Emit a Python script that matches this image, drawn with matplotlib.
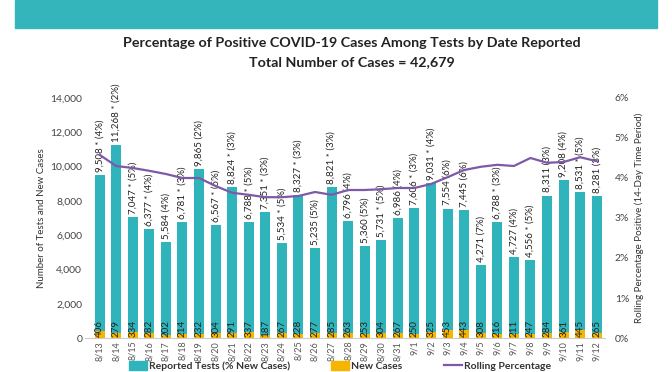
import numpy as np
import matplotlib
matplotlib.use("Agg")
import matplotlib.pyplot as plt
import matplotlib.patches as mpatches
from matplotlib.lines import Line2D

plt.rcParams['font.family'] = ['Lato', 'DejaVu Sans']

dates = ['8/13', '8/14', '8/15', '8/16', '8/17', '8/18', '8/19', '8/20', '8/21', '8/22',
         '8/23', '8/24', '8/25', '8/26', '8/27', '8/28', '8/29', '8/30', '8/31', '9/1',
         '9/2', '9/3', '9/4', '9/5', '9/6', '9/7', '9/8', '9/9', '9/10', '9/11', '9/12']
tests = [9508, 11268, 7047, 6377, 5584, 6781, 9865, 6567, 8824, 6788,
         7351, 5534, 8327, 5235, 8821, 6796, 5360, 5731, 6986, 7606,
         9031, 7554, 7445, 4271, 6788, 4727, 4556, 8311, 9208, 8531, 8281]
pct_new = [4, 2, 5, 4, 4, 3, 2, 5, 3, 5,
           3, 5, 3, 5, 3, 4, 5, 5, 4, 3,
           4, 6, 6, 7, 3, 4, 5, 3, 4, 5, 3]
starred = [1, 1, 1, 1, 0, 1, 0, 1, 1, 1,
           1, 1, 1, 0, 1, 0, 0, 1, 0, 1,
           1, 0, 0, 0, 1, 0, 1, 0, 0, 1, 0]
new_cases = [406, 279, 334, 282, 202, 214, 232, 304, 291, 337,
             187, 267, 228, 277, 285, 263, 253, 304, 267, 250,
             325, 453, 443, 308, 216, 211, 247, 284, 361, 445, 265]
rolling = [4.58, 4.30, 4.25, 4.18, 4.10, 4.00, 4.00, 3.80, 3.63, 3.58,
           3.52, 3.52, 3.55, 3.65, 3.58, 3.70, 3.70, 3.72, 3.75, 3.75,
           3.85, 4.02, 4.20, 4.28, 4.33, 4.30, 4.50, 4.38, 4.40, 4.52, 4.42]

TEAL = '#2fb4bc'
ORANGE = '#f7b500'
PURPLE = '#7d5aa8'
TXT = '#222222'

fig = plt.figure(figsize=(6.72, 3.72), dpi=100)
# header banner (cut off at the top in the original)
fig.patches.append(mpatches.Rectangle((15 / 672, 1 - 28 / 372), 642 / 672, 28 / 372,
                                      transform=fig.transFigure, color='#33b5bb', zorder=0))

fig.text(352 / 672, 1 - 43 / 372, 'Percentage of Positive COVID-19 Cases Among Tests by Date Reported',
         ha='center', va='center', fontsize=10.3, fontweight='bold', color=TXT)
fig.text(352 / 672, 1 - 62 / 372, 'Total Number of Cases = 42,679',
         ha='center', va='center', fontsize=10.3, fontweight='bold', color=TXT)

ax = fig.add_axes([85 / 672, 1 - 338 / 372, 520 / 672, 240 / 372])
x = np.arange(len(dates))
w = 0.6
ax.bar(x, tests, width=w, color=TEAL, zorder=2)
ax.bar(x, new_cases, width=w, color=ORANGE, zorder=3)

for i in x:
    star = ' *' if starred[i] else ''
    ax.text(i, tests[i] + 180, f'{tests[i]:,}{star} ({pct_new[i]}%)', rotation=90,
            ha='center', va='bottom', fontsize=7, color=TXT, clip_on=False, zorder=5)
    ax.text(i, 40, f'{new_cases[i]}', rotation=90, ha='center', va='bottom',
            fontsize=7, color=TXT, zorder=5)

ax.set_xlim(-0.88, 30.5)
ax.set_ylim(0, 14000)
ax.set_yticks(np.arange(0, 14001, 2000))
ax.set_yticklabels([f'{v:,}' for v in range(0, 14001, 2000)])
ax.set_xticks(x)
ax.set_xticklabels(dates, rotation=90)
ax.tick_params(axis='x', length=0, labelsize=6.5, colors='#555555', pad=2)
ax.tick_params(axis='y', length=0, labelsize=7.5, colors='#444444', pad=2)
for s in ['top', 'right', 'left']:
    ax.spines[s].set_visible(False)
ax.spines['bottom'].set_color('#cccccc')
ax.set_ylabel('Number of Tests and New Cases', fontsize=7, color='#333333', labelpad=3)

ax2 = ax.twinx()
ax2.plot(x, rolling, color=PURPLE, lw=1.6, zorder=4)
ax2.set_ylim(0, 6)
ax2.set_yticks(range(0, 7))
ax2.set_yticklabels([f'{v}%' for v in range(0, 7)])
ax2.tick_params(axis='y', length=0, labelsize=7.5, colors='#444444', pad=7)
for s in ['top', 'right', 'left', 'bottom']:
    ax2.spines[s].set_visible(False)
ax2.set_ylabel('Rolling Percentage Positive (14-Day Time Period)', fontsize=7,
               color='#333333', labelpad=4)

handles = [mpatches.Patch(color=TEAL, label='Reported Tests (% New Cases)'),
           mpatches.Patch(color=ORANGE, label='New Cases'),
           Line2D([0], [0], color=PURPLE, lw=1.6, label='Rolling Percentage')]
leg = fig.legend(handles=handles, loc='center', bbox_to_anchor=(340 / 672, 1 - 366 / 372), ncol=3,
                 frameon=False, fontsize=7.5, columnspacing=4, handlelength=1.7,
                 handleheight=0.9, handletextpad=0.2, borderpad=0)
for t in leg.get_texts():
    t.set_fontweight('bold')
    t.set_color('#333333')

fig.savefig('out.png', dpi=100)
